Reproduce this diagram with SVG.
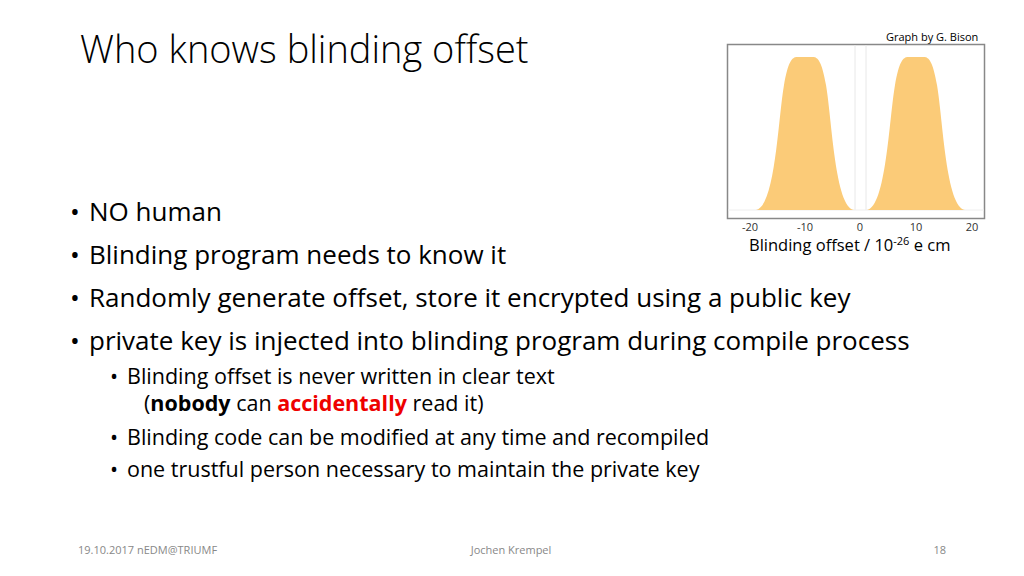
<svg xmlns="http://www.w3.org/2000/svg" width="1024" height="576" viewBox="0 0 1024 576">
<style>
text{font-family:"Open Sans","Liberation Sans",sans-serif;fill:#000}
.b{font-size:26px}.s{font-size:21.5px}.f{font-size:11px;fill:#888}
.hump{fill:#fbcb78}
</style>
<rect width="1024" height="576" fill="#fff"/>
<text x="80" y="63" style="font-size:38px;font-weight:300">Who knows blinding offset</text>
<text x="886" y="41" style="font-size:11px">Graph by G. Bison</text>
<g id="plot">
<rect x="727.5" y="44.5" width="257" height="174" fill="none" stroke="#888" stroke-width="1.5"/>
<line x1="855" y1="45" x2="855" y2="210" stroke="#e8e8e8"/>
<line x1="866" y1="45" x2="866" y2="210" stroke="#e8e8e8"/>
<line x1="728" y1="210" x2="984" y2="210" stroke="#eee"/>
<path class="hump" d="M756,210 C775,207 778,120 784,85 C788,62 792,57 797,57 L813,57 C818,57 822,62 826,85 C832,120 835,207 854,210 Z"/>
<path class="hump" d="M867,210 C886,207 889,120 895,85 C899,62 903,57 908,57 L924,57 C929,57 933,62 937,85 C943,120 946,207 965,210 Z"/>
<text x="750" y="231" text-anchor="middle" style="font-size:11px;fill:#333">-20</text>
<text x="805" y="231" text-anchor="middle" style="font-size:11px;fill:#333">-10</text>
<text x="860" y="231" text-anchor="middle" style="font-size:11px;fill:#333">0</text>
<text x="916" y="231" text-anchor="middle" style="font-size:11px;fill:#333">10</text>
<text x="972" y="231" text-anchor="middle" style="font-size:11px;fill:#333">20</text>
<text x="749" y="251" style="font-size:16.5px">Blinding offset / 10<tspan dy="-6" style="font-size:11px">-26</tspan><tspan dy="6"> e cm</tspan></text>
</g>
<g id="bullets">
<text x="70" y="221" class="b">•</text><text x="89" y="221" class="b">NO human</text>
<text x="70" y="264" class="b">•</text><text x="89" y="264" class="b">Blinding program needs to know it</text>
<text x="70" y="307" class="b">•</text><text x="89" y="307" class="b">Randomly generate offset, store it encrypted using a public key</text>
<text x="70" y="350" class="b">•</text><text x="89" y="350" class="b">private key is injected into blinding program during compile process</text>
<text x="110" y="384" class="s">•</text><text x="127" y="384" class="s">Blinding offset is never written in clear text</text>
<text x="144" y="411" class="s">(<tspan font-weight="bold">nobody</tspan> can <tspan font-weight="bold" fill="#e00" style="fill:#e00">accidentally</tspan> read it)</text>
<text x="110" y="445" class="s">•</text><text x="127" y="445" class="s">Blinding code can be modified at any time and recompiled</text>
<text x="110" y="477" class="s">•</text><text x="127" y="477" class="s">one trustful person necessary to maintain the private key</text>
</g>
<text x="78" y="554" class="f">19.10.2017 nEDM@TRIUMF</text>
<text x="511" y="554" class="f" text-anchor="middle">Jochen Krempel</text>
<text x="946" y="554" class="f" text-anchor="end">18</text>
</svg>
